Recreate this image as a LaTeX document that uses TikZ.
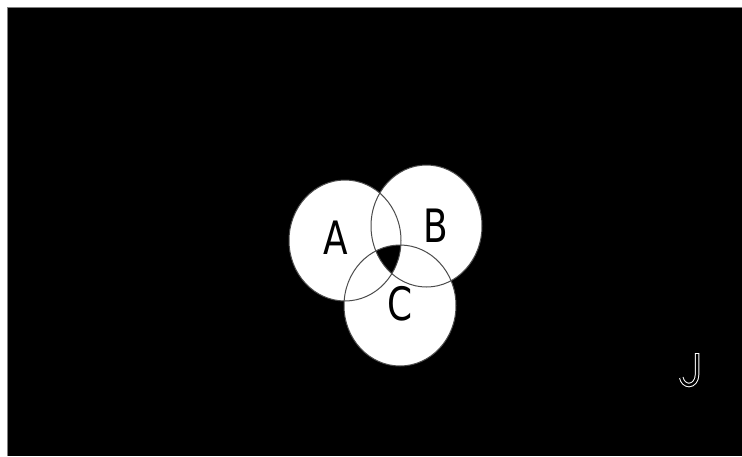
\documentclass[tikz,border=0pt]{standalone}
\usepackage{fontspec}
\setmainfont{DejaVu Sans}
\usepackage{graphicx}
\begin{document}
\begin{tikzpicture}[x=1pt,y=-1pt,
  setlabel/.style={inner sep=0pt,font=\fontsize{46}{46}\selectfont},
  ring/.style={draw=black!70,line width=1pt}]
\useasboundingbox (0,0) rectangle (742,456);
\fill[white] (0,0) rectangle (742,456);
\fill[black] (7,7) rectangle (742,456);
\draw[gray,line width=1pt] (7,456) -- (7,7) -- (742,7);
% circles
\coordinate (ca) at (345,240.5);
\coordinate (cb) at (426.5,226);
\coordinate (cc) at (400,305.5);
\fill[white] (ca) ellipse [x radius=56, y radius=60.5];
\fill[white] (cb) ellipse [x radius=55.5, y radius=61];
\fill[white] (cc) ellipse [x radius=56, y radius=60.5];
\begin{scope}
  \clip (ca) ellipse [x radius=56, y radius=60.5];
  \clip (cb) ellipse [x radius=55.5, y radius=61];
  \fill[black] (cc) ellipse [x radius=56, y radius=60.5];
\end{scope}
\draw[ring] (ca) ellipse [x radius=56, y radius=60.5];
\draw[ring] (cb) ellipse [x radius=55.5, y radius=61];
\draw[ring] (cc) ellipse [x radius=56, y radius=60.5];
\node[setlabel] (la) at (336,238) {\scalebox{0.78}[1]{A}};
\node[setlabel] (lb) at (436,226) {\scalebox{0.78}[1]{B}};
\node[setlabel] (lc) at (400,304) {\scalebox{0.78}[1]{C}};
% hollow J
\coordinate (j1) at (697,353);
\coordinate (j2) at (697,375);
\draw[white,line width=4.5pt,line cap=butt] (j1) -- (j2) arc[start angle=0,end angle=165,x radius=8,y radius=10];
\draw[black,line width=2.5pt,line cap=butt] ([yshift=-1]j1) -- (j2) arc[start angle=0,end angle=167,x radius=8,y radius=10];
\end{tikzpicture}
\end{document}
